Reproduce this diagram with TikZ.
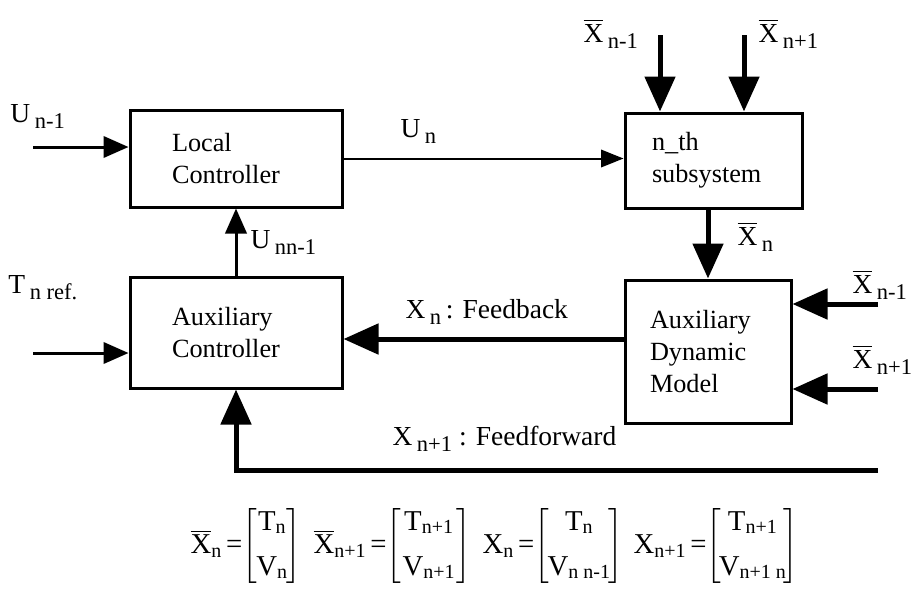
\documentclass[tikz,border=0pt]{standalone}
\usepackage{fontspec}
\setmainfont{Liberation Serif}
\usetikzlibrary{arrows.meta}

% lowered index in text size, as in the labels
\newcommand\lo[1]{\,\raisebox{-2.5pt}{\fontsize{9}{10}\selectfont #1}}
\newcommand\ms[1]{\raisebox{-1.5pt}{\fontsize{8}{9}\selectfont #1}}
\newcommand\Xbar{$\overline{\hbox{X}}$}
% column vector of a given inner width
\newcommand\colvec[3]{$\left[\begin{array}{c}\makebox[#1]{#2}\\[5pt]\makebox[#1]{#3}\end{array}\right]$}

\begin{document}
\begin{tikzpicture}[x=0.4pt,y=-0.4pt,
    font=\fontsize{10.5}{12.8}\selectfont,
    blockbox/.style={draw, line width=1.2pt, align=left},
    lbl/.style={anchor=base west, inner sep=0pt, font=\fontsize{11}{13}\selectfont},
    vecnode/.style={anchor=west, inner sep=0pt, font=\fontsize{11.5}{13}\selectfont},
    thinarrow/.style={line width=1.2pt, -{Triangle[length=10pt,width=8.5pt]}},
    unarrow/.style={line width=0.8pt, -{Triangle[length=9pt,width=7pt]}},
    thickarrow/.style={line width=2pt, -{Triangle[length=14pt,width=12pt]}}]
    \useasboundingbox (0,0) rectangle (918,588);

    % the four blocks
    \node[blockbox, minimum height=38.8pt, inner xsep=16.8pt, text width=51.2pt] (lc) at (236,158.5) {Local\\Controller};
    \node[blockbox, minimum height=44.4pt, inner xsep=16.8pt, text width=51.2pt] (ac) at (236,332.5) {Auxiliary\\Controller};
    \node[blockbox, minimum height=38pt, inner xsep=10.8pt, text width=49.2pt] (nth) at (713.5,160.5) {n\_th\\subsystem};
    \node[blockbox, minimum height=57.2pt, inner xsep=10pt, text width=46.4pt] (adm) at (708,351.5) {Auxiliary\\Dynamic\\Model};

    % free ends of the signals
    \coordinate (uin) at (33,147);
    \coordinate (tin) at (33,353);
    \coordinate (xa) at (660,35);
    \coordinate (xb) at (744,35);
    \coordinate (xc) at (878,304);
    \coordinate (xd) at (878,389);
    \coordinate (fb) at (600,339);
    \coordinate (ff) at (878,470);

    \draw[thinarrow] (uin) -- (uin -| lc.west);
    \draw[thinarrow] (tin) -- (tin -| ac.west);
    \draw[unarrow] (lc.east) -- (lc.east -| nth.west);
    \draw[thinarrow] (ac.north) -- (lc.south);

    \draw[thickarrow] (xa) -- (xa |- nth.north);
    \draw[thickarrow] (xb) -- (xb |- nth.north);
    \draw[thickarrow] (adm.north |- nth.south) -- (adm.north);
    \draw[thickarrow] (xc) -- (xc -| adm.east);
    \draw[thickarrow] (xd) -- (xd -| adm.east);
    \draw[thickarrow] (fb -| adm.west) -- (fb -| ac.east);
    \draw[thickarrow] (ff) -- (ff -| ac.south) -- (ac.south);

    % labels
    \node[lbl] (lu) at (10,122) {U\lo{n-1}};
    \node[lbl] (lun) at (400,137) {U\lo{n}};
    \node[lbl] (lunn) at (250,248) {U\lo{nn-1}};
    \node[lbl] (lt) at (8,293) {T\lo{n ref.}};
    \node[lbl] (lxa) at (583,42) {\Xbar\lo{n-1}};
    \node[lbl] (lxb) at (758,42) {\Xbar\lo{n+1}};
    \node[lbl] (lxn) at (737,245) {\Xbar\lo{n}};
    \node[lbl] (lxc) at (852,293) {\Xbar\lo{n-1}};
    \node[lbl] (lxd) at (852,368) {\Xbar\lo{n+1}};
    \node[lbl] (lfb) at (405,318) {X\lo{n}\,: Feedback};
    \node[lbl] (lff) at (392,445) {X\lo{n+1} : Feedforward};

    % state vectors
    \setlength\arraycolsep{0pt}
    \node[vecnode] (vxn) at (190,546) {\Xbar\ms{n}\,=\colvec{12pt}{T\ms{n}}{V\ms{n}}};
    \node[vecnode] (vxm) at (313,546) {\Xbar\ms{n+1}\,=\colvec{22pt}{T\ms{n+1}}{V\ms{n+1}}};
    \node[vecnode] (vx) at (482,546) {X\ms{n}\,=\colvec{24pt}{T\ms{n}}{V\ms{n n-1}}};
    \node[vecnode] (vxp) at (633,546) {X\ms{n+1}\,=\colvec{25pt}{T\ms{n+1}}{V\ms{n+1 n}}};
\end{tikzpicture}
\end{document}
